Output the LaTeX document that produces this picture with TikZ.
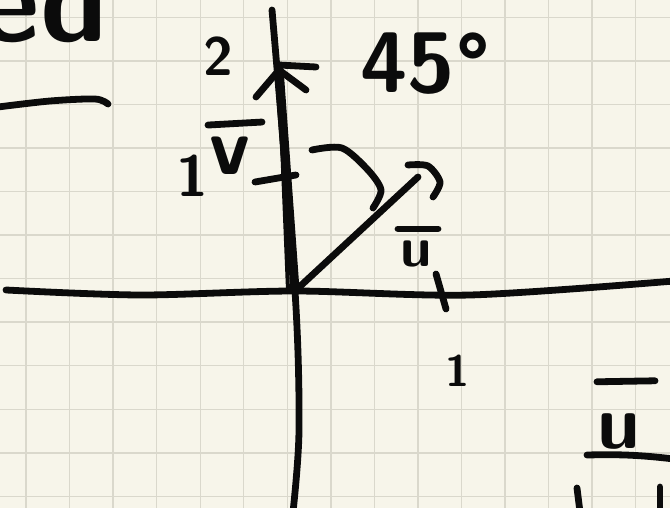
\documentclass[tikz,border=0pt]{standalone}
\usepackage{xcolor}
\usetikzlibrary{positioning,calc}
\definecolor{PaperCream}{HTML}{F7F5EA}
\definecolor{GridRule}{HTML}{DAD8CC}
\definecolor{InkBlack}{HTML}{0B0B0B}
\newcommand{\handsize}[1]{\sffamily\bfseries\fontsize{#1}{#1}\selectfont}

\begin{document}
\begin{tikzpicture}[x=0.5pt,y=-0.5pt,
        ink/.style={draw=InkBlack, line width=3.4pt, line cap=round, line join=round},
        gridrule/.style={draw=GridRule, line width=0.7pt},
        hand/.style={text=InkBlack, inner sep=0pt}]
    \useasboundingbox (0,0) rectangle (670,508);
    \clip (0,0) rectangle (670,508);
    \fill[PaperCream] (0,0) rectangle (670,508);
    % grid paper
    \foreach \k in {0,...,14}
        \draw[gridrule] ({26+43.55*\k},0) -- ({26+43.55*\k},508);
    \foreach \k in {0,...,11}
        \draw[gridrule] (0,{17.3+43.55*\k}) -- (670,{17.3+43.55*\k});

    % points
    \coordinate (O) at (295,291);
    \coordinate (xl) at (6,290);
    \coordinate (xa) at (140,295);
    \coordinate (xb) at (470,295);
    \coordinate (xr) at (674,281);
    \coordinate (yt) at (272,10);
    \coordinate (ya) at (299,430);
    \coordinate (yb) at (293,512);
    \coordinate (vtip) at (279,70);
    \coordinate (vhl) at (256,97);
    \coordinate (vhr) at (306,90);
    \coordinate (utip) at (418,177);

    % axes
    \draw[ink] plot[smooth] coordinates {(xl) (xa) (O) (xb) (xr)};
    \draw[ink] plot[smooth] coordinates {(yt) (O) (ya) (yb)};

    % ticks
    \draw[ink] (279,65) -- (316,67);
    \draw[ink] (255,182) -- (296,175);
    \draw[ink] (436,274) -- (446,309);

    % vector v
    \draw[ink, line width=4.6pt] (O) -- (vtip);
    \draw[ink, line width=2pt] (288,290) -- (vtip);
    \draw[ink] (vhl) -- (vtip) -- (vhr);

    % vector u
    \draw[ink] (O) -- (utip);
    \draw[ink] plot[smooth] coordinates {(408,165) (428,166) (440,182) (433,197)};

    % angle
    \draw[ink] plot[smooth] coordinates {(312,150) (342,148) (368,170) (381,190) (373,208)};

    % labels
    \node[hand, font=\handsize{60}, anchor=base east] (word) at (108,42) {ed};
    \draw[ink] plot[smooth] coordinates {(-2,107) (50,101) (95,99) (108,104)};
    \node[hand, font=\handsize{27}] (two) at (218,56) {2};
    \node[hand, font=\handsize{41}, anchor=base] (vlabel) at (230,175) {v};
    \draw[ink] ($(vlabel.north)+(-22,-12)$) -- ($(vlabel.north)+(32,-15)$);
    \node[hand, font=\handsize{29}, left=0pt of vlabel.base west, anchor=base east, yshift=-11pt] (onev) {1};
    \node[hand, font=\handsize{43}, anchor=base west] (angle) at (360,93) {45\textdegree};
    \node[hand, font=\handsize{28}, anchor=base] (ulabel) at (416,266) {u};
    \draw[ink] ($(ulabel.north)+(-18,-11)$) -- ($(ulabel.north)+(22,-11)$);
    \node[hand, font=\handsize{22}] (oneu) at (458,371) {1};
    \node[hand, font=\handsize{38}, anchor=base] (unorm) at (619,448) {u};
    \draw[ink] ($(unorm.north)+(-22,-31)$) -- ($(unorm.north)+(36,-32)$);
    \coordinate (ul1) at (587,455);
    \coordinate (ul2) at (674,459);
    \draw[ink] (ul1) to[bend left=4] (ul2);
    \draw[ink] (577,488) -- (580,512);
    \draw[ink] (660,487) -- (660,512);
\end{tikzpicture}
\end{document}
